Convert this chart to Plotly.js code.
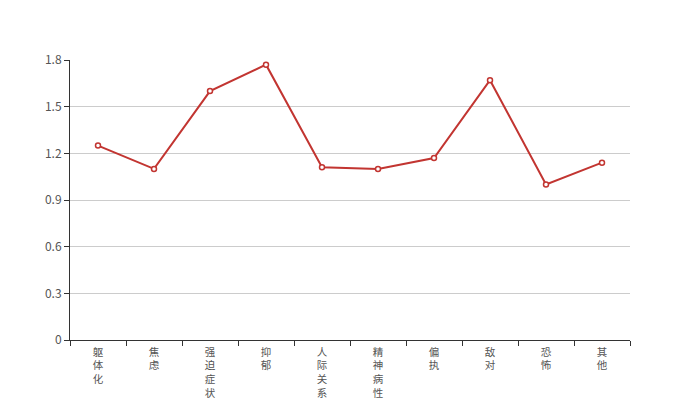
<!DOCTYPE html>
<html>
<head>
<meta charset="utf-8">
<script src="https://cdn.plot.ly/plotly-3.0.1.min.js"></script>
<style>html,body{margin:0;padding:0;background:#fff;}#chart{width:700px;height:400px;}</style>
</head>
<body>
<div id="chart"></div>
<script>
const categories = ["躯体化","焦虑","强迫症状","抑郁","人际关系敏感","精神病性","偏执","敌对","恐怖","其他"];
const values = [1.25, 1.10, 1.60, 1.77, 1.11, 1.10, 1.17, 1.67, 1.00, 1.14];
const yTicks = [0, 0.3, 0.6, 0.9, 1.2, 1.5, 1.8];

const vertical = categories.map(c => Array.from(c).join('<br>'));

const trace = {
  type: 'scatter',
  mode: 'lines+markers',
  x: categories,
  y: values,
  line: {color: '#c23531', width: 2},
  marker: {symbol: 'circle', size: 5, color: '#ffffff', line: {color: '#c23531', width: 1.5}},
  cliponaxis: false,
  hoverinfo: 'x+y'
};

const layout = {
  width: 700, height: 400,
  margin: {l: 70, r: 70, t: 60, b: 60},
  paper_bgcolor: '#ffffff', plot_bgcolor: '#ffffff',
  showlegend: false,
  font: {family: '"Noto Sans CJK SC", "Noto Sans", sans-serif', size: 12, color: '#333'},
  xaxis: {
    type: 'category',
    categoryorder: 'array', categoryarray: categories,
    tickmode: 'array', tickvals: categories, ticktext: vertical,
    range: [-0.5, categories.length - 0.5],
    tickson: 'boundaries',
    ticks: 'outside', ticklen: 5, tickcolor: '#333', tickwidth: 1,
    showline: true, linecolor: '#333', linewidth: 1,
    showgrid: false, zeroline: false,
    tickangle: 0,
    tickfont: {size: 10.5, color: '#555'},
    ticklabelstandoff: 2
  },
  yaxis: {
    range: [0, 1.8],
    tickmode: 'array', tickvals: yTicks, ticktext: yTicks.map(String),
    ticks: 'outside', ticklen: 5, tickcolor: '#333', tickwidth: 1,
    showline: true, linecolor: '#333', linewidth: 1,
    showgrid: true, gridcolor: '#cccccc', gridwidth: 1,
    zeroline: false,
    tickfont: {size: 12, color: '#555'}
  }
};

Plotly.newPlot('chart', [trace], layout, {displayModeBar: false, staticPlot: true});
</script>
</body>
</html>
